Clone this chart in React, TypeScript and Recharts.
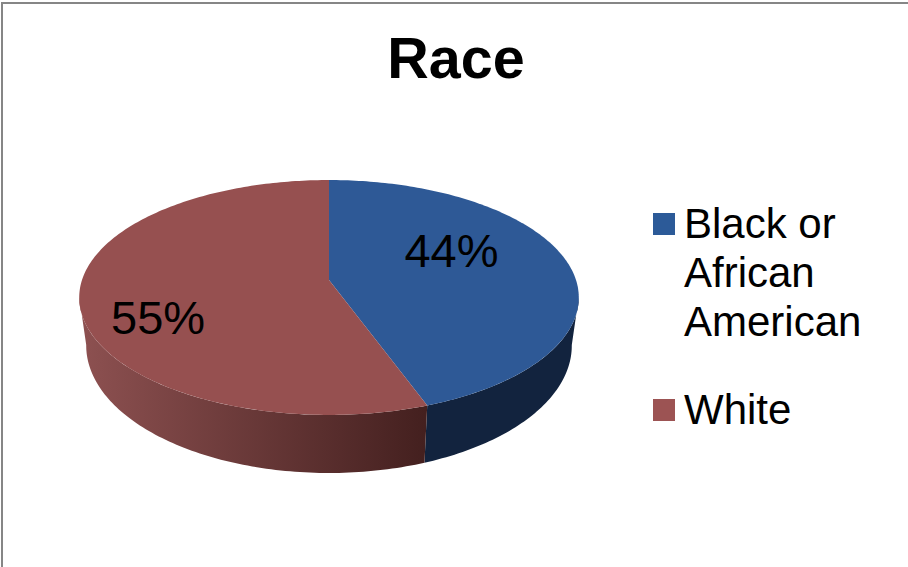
import React from "react";
import { PieChart, Pie, Cell, Legend } from "recharts";

const categories = ["Black or African American", "White"];
const percentages = [44, 55];
const sliceColors = ["#2e5996", "#965050"];
const legendColors = ["#2c5a98", "#9c5353"];
const title = "Race";

const chartData = categories.map((name, i) => ({ name, value: percentages[i] }));

const FONT = '"Liberation Sans", Arial, sans-serif';

// Perspective of the tilted disc (unit circle -> screen, relative to the pie centre).
const TILT_A = 0.465;
const TILT_C = -0.149;
const RIGHT_EXTREME = 98.3;
const LEFT_EXTREME = 261.7;
const DEPTH_SCALE_X = 0.972;
const DEPTH_SCALE_Y = 1.085;
const ELLIPSE_MID = 17;
const DEPTH_SHIFT = 48;

const wallStyles: Record<string, { from: string; to: string; id: string }> = {
  "#2e5996": { from: "#13243f", to: "#12233e", id: "wallBlue" },
  "#965050": { from: "#8c5050", to: "#44201f", id: "wallRed" },
};

function project(cx: number, cy: number, r: number, theta: number, f = 1) {
  const rad = (theta * Math.PI) / 180;
  const u = Math.sin(rad) * f;
  const v = -Math.cos(rad) * f;
  const den = 1 + TILT_C * v;
  return { x: cx + (r * u) / den, y: cy + (r * TILT_A * v) / den };
}

function dropped(cx: number, cy: number, p: { x: number; y: number }) {
  return {
    x: cx + (p.x - cx) * DEPTH_SCALE_X,
    y: cy + ELLIPSE_MID + DEPTH_SHIFT + (p.y - cy - ELLIPSE_MID) * DEPTH_SCALE_Y,
  };
}

function arc(cx: number, cy: number, r: number, from: number, to: number) {
  const pts = [];
  const n = Math.max(2, Math.ceil(Math.abs(to - from)));
  for (let i = 0; i <= n; i++) pts.push(project(cx, cy, r, from + ((to - from) * i) / n));
  return pts;
}

const toPath = (pts: { x: number; y: number }[]) =>
  pts.map((p, i) => `${i ? "L" : "M"}${p.x.toFixed(2)} ${p.y.toFixed(2)}`).join(" ") + " Z";

function DiscSlice(props: any) {
  const { cx, cy, outerRadius, startAngle, endAngle, fill } = props;
  const a = 90 - Math.max(startAngle, endAngle);
  const b = 90 - Math.min(startAngle, endAngle);
  const top = arc(cx, cy, outerRadius, a, b);
  const wa = Math.max(a, RIGHT_EXTREME);
  const wb = Math.min(b, LEFT_EXTREME);
  const style = wallStyles[fill];
  let wall = null;
  if (wb > wa && style) {
    const upper = arc(cx, cy, outerRadius, wa, wb);
    const lower = upper.map((p) => dropped(cx, cy, p)).reverse();
    wall = (
      <>
        <defs>
          <linearGradient id={style.id} gradientUnits="userSpaceOnUse" x1={86} x2={425} y1={0} y2={0}>
            <stop offset="0" stopColor={style.from} />
            <stop offset="1" stopColor={style.to} />
          </linearGradient>
        </defs>
        <path d={toPath([...upper, ...lower])} fill={`url(#${style.id})`} stroke="none" />
      </>
    );
  }
  return (
    <g>
      {wall}
      <path d={toPath([{ x: cx, y: cy }, ...top])} fill={fill} stroke="none" />
    </g>
  );
}

const labelPlacement = [
  { f: 0.51, dy: -3 },
  { f: 0.69, dy: 40 },
];

function renderPercent(props: any) {
  const { cx, cy, midAngle, outerRadius, index, value } = props;
  const { f, dy } = labelPlacement[index];
  const p = project(cx, cy, outerRadius, 90 - midAngle, f);
  return (
    <text
      key={index}
      x={p.x}
      y={p.y + dy}
      textAnchor="middle"
      fontFamily={FONT}
      fontSize={47}
      fill="#000"
    >
      {`${value}%`}
    </text>
  );
}

function LegendBlock(props: any) {
  const items = props.payload || [];
  return (
    <div style={{ fontFamily: FONT, fontSize: 42, lineHeight: "49px", color: "#000", width: 230 }}>
      {items.map((it: any, i: number) => (
        <div key={i} style={{ display: "flex", alignItems: "flex-start", marginBottom: 39 }}>
          <div
            style={{
              width: 22,
              height: 22,
              marginTop: 14,
              marginRight: 9,
              flex: "none",
              background: legendColors[i],
            }}
          />
          <div style={{ width: 190 }}>{it.value}</div>
        </div>
      ))}
    </div>
  );
}

export default function App() {
  return (
    <div style={{ position: "absolute", left: 0, top: 0, width: 908, height: 567, background: "#fff", overflow: "hidden" }}>
      <div style={{ position: "absolute", left: 1, top: 2, width: 907, height: 565, borderLeft: "2px solid #868686", borderTop: "2px solid #868686", boxSizing: "border-box" }} />
      <div style={{ position: "absolute", left: 0, top: 0 }}>
        <PieChart width={908} height={567} margin={{ top: 0, right: 0, bottom: 0, left: 0 }}>
          <text x={456} y={78} textAnchor="middle" fontFamily={FONT} fontSize={57.5} fontWeight="bold" fill="#000">
            {title}
          </text>
          <Pie
            data={chartData}
            dataKey="value"
            nameKey="name"
            cx={329}
            cy={280}
            innerRadius={0}
            outerRadius={247}
            startAngle={90}
            endAngle={-270}
            stroke="none"
            isAnimationActive={false}
            labelLine={false}
            label={renderPercent}
            shape={DiscSlice}
          >
            {chartData.map((d, i) => (
              <Cell key={d.name} fill={sliceColors[i]} />
            ))}
          </Pie>
          <Legend
            layout="vertical"
            align="right"
            verticalAlign="middle"
            content={LegendBlock}
            wrapperStyle={{ left: 653, top: 199, right: "auto", width: 230, margin: 0, padding: 0 }}
          />
        </PieChart>
      </div>
    </div>
  );
}
